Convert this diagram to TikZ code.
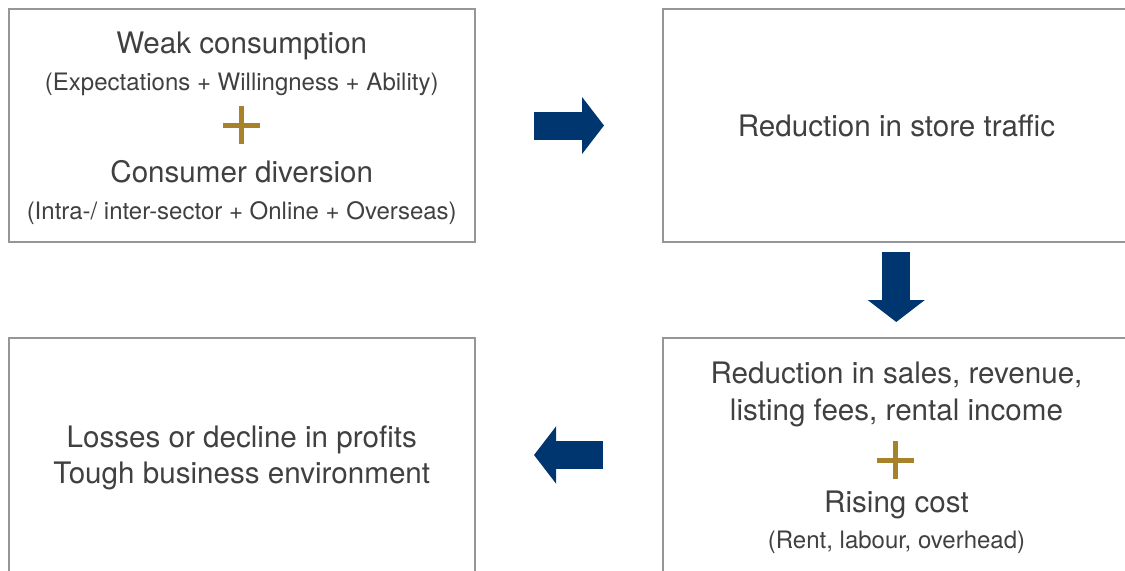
\documentclass[tikz,border=0pt]{standalone}
\usepackage{fontspec}
\setmainfont{TeX Gyre Heros}
\usepackage{tikz}
\usetikzlibrary{arrows.meta,positioning}
\definecolor{framegray}{RGB}{150,150,150}
\definecolor{textgray}{RGB}{64,64,64}
\definecolor{navy}{RGB}{0,54,112}
\definecolor{plusgold}{RGB}{168,129,43}
\tikzset{box/.style={draw=framegray,line width=1pt,minimum width=233.25pt,minimum height=116.5pt,inner sep=0pt,outer sep=0pt}}
\tikzset{big/.style={font=\fontsize{14.8}{17}\selectfont,text=textgray,anchor=base,inner sep=0pt}}
\tikzset{small/.style={font=\fontsize{12}{14}\selectfont,text=textgray,anchor=base,inner sep=0pt}}
\tikzset{flow/.style={navy,line width=14pt,-{Triangle[length=11pt,width=28pt]}}}
\tikzset{plus/.style={plusgold,line width=2.5pt}}

\begin{document}
\begin{tikzpicture}[x=0.5pt,y=-0.5pt]
        \useasboundingbox (0,0) rectangle (1125,570);
        \clip (0,0) rectangle (1125,570);
        % the boxes on the right and at the bottom run off the page
        \node[box](cause) at (241.75,125.5){};
        \node[box](traffic) at (896.25,125.5){};
        \node[box,minimum height=125pt](sales) at (896.25,463){};
        \node[box,minimum height=125pt](loss) at (241.75,463){};
        \node[big](weak) at (241.75,53){Weak consumption};
        \node[small](expect) at (241.75,90){(Expectations + Willingness + Ability)};
        \coordinate(plusA) at (241,125);
        \node[big](divert) at (241.75,182){Consumer diversion};
        \node[small](sector) at (241.75,219){(Intra-/ inter-sector + Online + Overseas)};
        \node[big](store) at (896.5,136){Reduction in store traffic};
        \node[big](revenue) at (896.5,383){Reduction in sales, revenue,};
        \node[big](fees) at (896.5,420){listing fees, rental income};
        \coordinate(plusB) at (895,460);
        \node[big](rising) at (896.5,512){Rising cost};
        \node[small](rent) at (896.5,548){(Rent, labour, overhead)};
        \node[big](losses) at (241.75,447){Losses or decline in profits};
        \node[big](tough) at (241.75,483){Tough business environment};
        \draw[plus]
        ([xshift=-9.25pt]plusA) -- ([xshift=9.25pt]plusA)
        ([yshift=-9.5pt]plusA) -- ([yshift=9.5pt]plusA)
        ([xshift=-9.25pt]plusB) -- ([xshift=9.25pt]plusB)
        ([yshift=-9.5pt]plusB) -- ([yshift=9.5pt]plusB);
        \draw[flow,shorten <=29.5pt,shorten >=29.5pt] (cause.east) -- (traffic.west);
        \draw[flow,shorten <=5pt,shorten >=8pt] (traffic.south) -- (sales.north);
        \draw[flow,shorten <=30pt,shorten >=29.5pt] ([yshift=4pt]sales.west) -- ([yshift=4pt]loss.east);
      \end{tikzpicture}
\end{document}
